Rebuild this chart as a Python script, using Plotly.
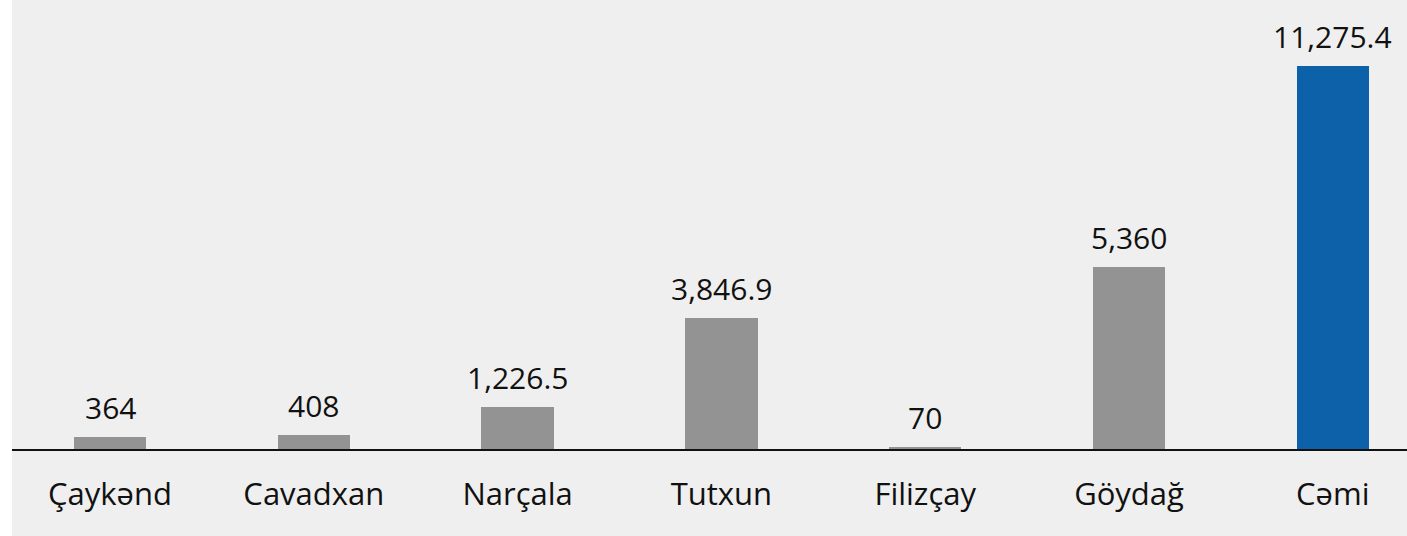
import plotly.graph_objects as go

categories = ["Çaykənd", "Cavadxan", "Narçala", "Tutxun", "Filizçay", "Göydağ", "Cəmi"]
values = [364, 408, 1226.5, 3846.9, 70, 5360, 11275.4]
labels = ["364", "408", "1,226.5", "3,846.9", "70", "5,360", "11,275.4"]
colors = ["#939393"] * 6 + ["#0c61a8"]

W, H = 1407, 536
FONT = "Open Sans"
fig = go.Figure(go.Bar(
    x=categories, y=values,
    marker=dict(color=colors, line=dict(width=0)),
    width=0.355,
))
for c, v, t in zip(categories, values, labels):
    fig.add_annotation(x=c, y=v, text=t, showarrow=False, yanchor="bottom",
                       yshift=7, font=dict(family=FONT, size=30, color="#111111"))
fig.update_layout(
    width=W, height=H,
    margin=dict(l=12, r=0, t=0, b=87),
    paper_bgcolor="#efefef", plot_bgcolor="#efefef",
    showlegend=False,
    bargap=0,
    shapes=[dict(type="rect", xref="paper", yref="paper", xsizemode="pixel",
                 ysizemode="scaled", xanchor=0, x0=-12, x1=0, y0=-1, y1=2,
                 fillcolor="white", line=dict(width=0), layer="below")],
)
fig.update_xaxes(
    range=[-0.4809, 6.364], showline=True, linecolor="#111111", linewidth=2,
    ticks="", ticklabelstandoff=17, showgrid=False,
    tickfont=dict(family=FONT, size=31, color="#111111"),
)
fig.update_yaxes(range=[0, 13218], visible=False, showgrid=False)
fig.write_html("out.html", config={"displayModeBar": False},
               post_script="document.body.style.margin='0';document.body.style.overflow='hidden';")
